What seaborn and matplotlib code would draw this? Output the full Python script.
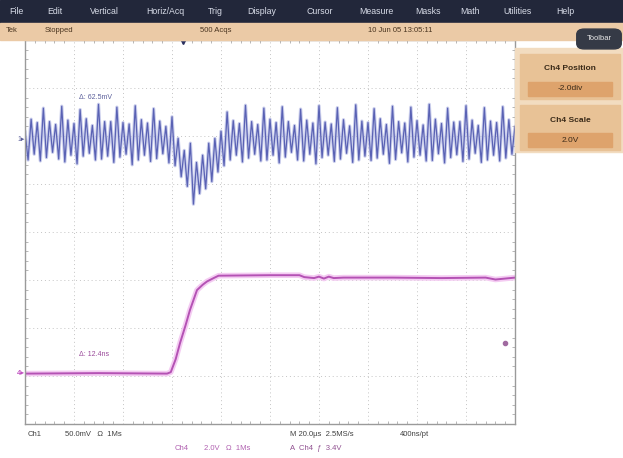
import numpy as np
import pandas as pd
import matplotlib
matplotlib.use("Agg")
import matplotlib.pyplot as plt
from matplotlib.patches import Rectangle, FancyBboxPatch
import seaborn as sns

menu_items = ["File", "Edit", "Vertical", "Horiz/Acq", "Trig", "Display", "Cursor",
              "Measure", "Masks", "Math", "Utilities", "Help"]
menu_x = [16, 55, 104, 165, 215, 262, 320, 376, 428, 470, 518, 565]

# Voie 1 (bleue) : échantillons toutes les 1.25 µs de -100 à +100 µs
ch1_div = [
    2.10, 1.50, 2.35, 1.62, 2.28, 1.48,
    2.58, 1.55, 2.30, 1.66, 2.24, 1.52,
    2.62, 1.46, 2.33, 1.60, 2.26, 1.42,
    2.55, 1.58, 2.36, 1.64, 2.22, 1.50,
    2.66, 1.52, 2.30, 1.58, 2.30, 1.45,
    2.60, 1.56, 2.28, 1.62, 2.25, 1.40,
    2.63, 1.50, 2.34, 1.60, 2.27, 1.47,
    2.57, 1.53, 2.31, 1.63, 2.20, 1.44,
    2.40, 1.38, 1.95, 1.15, 1.70, 0.95,
    1.85, 0.58, 1.45, 0.80, 1.60, 0.90,
    1.85, 1.05, 1.95, 1.25, 2.10, 1.38,
    2.50, 1.50, 2.32, 1.60, 2.26, 1.46,
    2.64, 1.54, 2.30, 1.62, 2.24, 1.48,
    2.58, 1.50, 2.35, 1.60, 2.28, 1.44,
    2.61, 1.56, 2.30, 1.66, 2.22, 1.50,
    2.56, 1.48, 2.33, 1.62, 2.27, 1.42,
    2.63, 1.55, 2.29, 1.60, 2.25, 1.47,
    2.59, 1.52, 2.34, 1.64, 2.21, 1.45,
    2.65, 1.50, 2.31, 1.58, 2.28, 1.49,
    2.57, 1.54, 2.36, 1.62, 2.24, 1.43,
    2.62, 1.51, 2.30, 1.65, 2.27, 1.46,
    2.60, 1.56, 2.32, 1.60, 2.23, 1.48,
    2.66, 1.49, 2.35, 1.63, 2.26, 1.44,
    2.58, 1.55, 2.29, 1.61, 2.30, 1.47,
    2.63, 1.52, 2.33, 1.64, 2.22, 1.45,
    2.59, 1.50, 2.31, 1.60, 2.28, 1.48,
    2.61, 1.54, 2.34, 1.62, 2.20,
]
ch1_t = np.linspace(-100, 100, len(ch1_div))

# Voie 4 (rose) : front montant
ch4_t = [-100, -70, -42, -40.5, -38.5, -36.7, -34.5, -32.7, -29.8, -27.5, -25.7, -23, -21,
         0, 12, 14, 18, 20, 22, 24, 26, 30, 50, 70, 88, 92, 96, 100]
ch4_div = [-2.95, -2.94, -2.95, -2.92, -2.65, -2.31, -1.95, -1.63, -1.21, -1.10, -1.03, -0.96, -0.91,
           -0.90, -0.90, -0.94, -0.96, -0.93, -0.97, -0.93, -0.96, -0.95, -0.95, -0.96, -0.95, -0.99, -0.97, -0.95]

ch1_offset = 1.92
ch4_offset = -2.95
trig_level = -2.31
trig_time = -35.5

df1 = pd.DataFrame({"t": ch1_t, "v": ch1_div})
df4 = pd.DataFrame({"t": ch4_t, "v": ch4_div})

sns.set_theme(style="white")
plt.rcParams["font.family"] = ["Liberation Sans", "DejaVu Sans"]

W, H = 623, 458
fig = plt.figure(figsize=(W / 100, H / 100), dpi=100)
ax = fig.add_axes([25 / W, (H - 424) / H, 490 / W, 384 / H])

# Barre de menu et bandeau d'état
fig.patches.append(Rectangle((0, 1 - 23 / H), 1, 23 / H, transform=fig.transFigure,
                             color="#22273a", zorder=0))
fig.patches.append(Rectangle((0, 1 - 40 / H), 1, 17 / H, transform=fig.transFigure,
                             color="#ebcaa6", zorder=0))
for name, x in zip(menu_items, menu_x):
    fig.text(x / W, 1 - 12 / H, name, color="#d8dce8", fontsize=6.3, ha="center", va="center")
for txt, x in [("Tek", 6), ("Stopped", 45), ("500 Acqs", 200), ("10 Jun 05 13:05:11", 368)]:
    fig.text(x / W, 1 - 31 / H, txt, color="#4a3520", fontsize=5.5, ha="left", va="center")

# Bouton Toolbar
fig.patches.append(FancyBboxPatch((578 / W, 1 - 48 / H), 42 / W, 18 / H,
                                  boxstyle="round,pad=0.002,rounding_size=0.012",
                                  transform=fig.transFigure, color="#353a46", zorder=1))
fig.text(599 / W, 1 - 39 / H, "Toolbar", color="#e8e8e8", fontsize=5.5, ha="center", va="center")

# Panneau de droite
fig.patches.append(Rectangle((515 / W, 1 - 152 / H), 108 / W, 104 / H, transform=fig.transFigure,
                             color="#f2dcc0", zorder=0))
for top, label, value in [(54, "Ch4 Position", "-2.0div"), (105, "Ch4 Scale", "2.0V")]:
    fig.patches.append(Rectangle((520 / W, 1 - (top + 45) / H), 100 / W, 45 / H,
                                 transform=fig.transFigure, color="#e8c296", zorder=1))
    fig.patches.append(Rectangle((528 / W, 1 - (top + 42) / H), 84 / W, 14 / H,
                                 transform=fig.transFigure, color="#dea36c", zorder=2))
    fig.text(570 / W, 1 - (top + 15) / H, label, color="#3a2a18", fontsize=6,
             ha="center", va="center", weight="bold")
    fig.text(570 / W, 1 - (top + 35) / H, value, color="#3a2a18", fontsize=6,
             ha="center", va="center")

# Traces
sns.lineplot(data=df4, x="t", y="v", ax=ax, color="#f4cbf2", lw=4, estimator=None)
sns.lineplot(data=df4, x="t", y="v", ax=ax, color="#b452b4", lw=1.4, estimator=None)
sns.lineplot(data=df1, x="t", y="v", ax=ax, color="#a8aee0", lw=2.4, estimator=None, alpha=0.6)
sns.lineplot(data=df1, x="t", y="v", ax=ax, color="#5a62b4", lw=0.9, estimator=None)

ax.set_xlim(-100, 100)
ax.set_ylim(-4, 4)
ax.set_xticks(np.arange(-100, 101, 20))
ax.set_yticks(np.arange(-4, 5, 1))
ax.set_xticks(np.arange(-100, 101, 4), minor=True)
ax.set_yticks(np.arange(-4, 4.01, 0.2), minor=True)
ax.set_xticklabels([])
ax.set_yticklabels([])
ax.set_xlabel("")
ax.set_ylabel("")
ax.grid(True, which="major", ls=(0, (1, 3)), color="#c4c4c4", lw=0.7)
ax.tick_params(which="both", direction="in", color="#9a9a9a", top=True, right=True,
               bottom=True, left=True)
ax.tick_params(which="major", length=0)
ax.tick_params(which="minor", length=2.5, width=0.5)
for s in ax.spines.values():
    s.set_color("#9a9a9a")
    s.set_linewidth(1)

# Étiquettes des traces et repères
ax.text(-78, 2.81, "Δ: 62.5mV", color="#5a5e9a", fontsize=5, va="center")
ax.text(-78, -2.56, "Δ: 12.4ns", color="#9a4a9a", fontsize=5, va="center")
ax.text(-100, ch1_offset, "1▸", color="#5a5e9a", fontsize=5, ha="right", va="center", clip_on=False)
ax.text(-100, ch4_offset, "4▸", color="#c050c0", fontsize=5.5, ha="right", va="center",
        clip_on=False, weight="bold")
ax.plot([96], [trig_level], marker="o", ms=3, color="#a06aa0", clip_on=False)
ax.plot([trig_time], [4], marker="v", ms=6, color="#2a3060", clip_on=False)

# Bas de l'écran
fig.text(28 / W, 1 - 435 / H, "Ch1", color="#404040", fontsize=5.5, va="center")
fig.text(65 / W, 1 - 435 / H, "50.0mV   Ω  1Ms", color="#404040", fontsize=5.5, va="center")
fig.text(290 / W, 1 - 435 / H, "M 20.0µs  2.5MS/s", color="#404040", fontsize=5.5, va="center")
fig.text(400 / W, 1 - 435 / H, "400ns/pt", color="#404040", fontsize=5.5, va="center")
fig.text(175 / W, 1 - 448 / H, "Ch4", color="#b060b0", fontsize=5.5, va="center")
fig.text(204 / W, 1 - 448 / H, "2.0V   Ω  1Ms", color="#b060b0", fontsize=5.5, va="center")
fig.text(290 / W, 1 - 448 / H, "A  Ch4  ƒ  3.4V", color="#905090", fontsize=5.5, va="center")

fig.savefig("out.png", dpi=100)
